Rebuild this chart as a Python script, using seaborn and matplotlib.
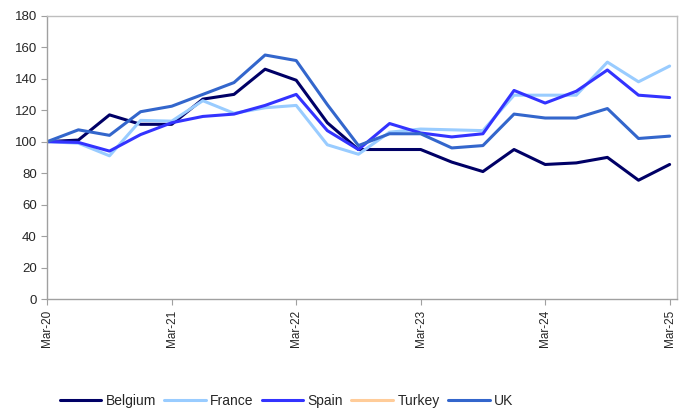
import numpy as np
import pandas as pd
import seaborn as sns
import matplotlib.pyplot as plt
from matplotlib.lines import Line2D

# quarterly index, Mar-20 = 100
quarters = pd.period_range("2020Q1", "2025Q1", freq="Q")
year_labels = ["Mar-20", "Mar-21", "Mar-22", "Mar-23", "Mar-24", "Mar-25"]

belgium = [100, 101, 117, 111, 111, 127, 130, 146, 139, 112, 95,
           95, 95, 87, 81, 95, 85.5, 86.5, 90, 75.5, 85.5]
france = [100, 99, 91, 113.5, 113, 126, 118, 121.5, 123, 98, 92,
          106, 108, 107.5, 107, 129.5, 129.5, 129.5, 150.5, 138, 148]
spain = [100, 99.5, 94, 104.5, 112, 116, 117.5, 123, 130, 107, 95,
         111.5, 105.5, 103, 105, 132.5, 124.5, 132, 145.5, 129.5, 128]
turkey = [np.nan] * 21  # no data shown
uk = [100, 107.5, 104, 119, 122.5, 130, 137.5, 155, 151.5, 123.5, 97.5,
      105, 105, 96, 97.5, 117.5, 115, 115, 121, 102, 103.5]

countries = ["Belgium", "France", "Spain", "Turkey", "UK"]
colors = ["#000066", "#99CCFF", "#3333FF", "#FFCC99", "#3366CC"]

df = pd.DataFrame({
    "q": np.tile(np.arange(len(quarters)), 5),
    "value": belgium + france + spain + turkey + uk,
    "country": np.repeat(countries, len(quarters)),
})

sns.set_style("white")
plt.rcParams["font.family"] = ["Liberation Sans", "DejaVu Sans"]

fig = plt.figure(figsize=(6.85, 4.12), dpi=100)
ax = fig.add_axes([0.069, 0.274, 0.919, 0.688])

sns.lineplot(data=df.dropna(), x="q", y="value", hue="country",
             hue_order=countries, palette=dict(zip(countries, colors)),
             linewidth=2.2, legend=False, ax=ax)

ax.set_xlim(0, 20.23)
ax.set_ylim(0, 180)
ax.set_yticks(range(0, 181, 20))
ax.set_xticks(range(0, 21, 4))
ax.set_xticklabels(year_labels, rotation=90, fontsize=8.5)
ax.tick_params(axis="y", labelsize=9.5)
ax.tick_params(axis="both", direction="out", length=4, color="#A0A0A0",
               left=True, bottom=True)
ax.set_xlabel("")
ax.set_ylabel("")
for s in ax.spines.values():
    s.set_color("#BEBEBE")
    s.set_linewidth(1.0)
ax.spines["left"].set_color("#A0A0A0")
ax.spines["bottom"].set_color("#A0A0A0")

handles = [Line2D([], [], color=c, lw=2.2) for c in colors]
fig.legend(handles, countries, loc="center left", bbox_to_anchor=(0.087, 0.027),
           ncol=5, frameon=False, handlelength=3.0, columnspacing=0.6,
           handletextpad=0.3, borderaxespad=0, borderpad=0,
           prop={"size": 10})

fig.savefig("out.png", dpi=100)
